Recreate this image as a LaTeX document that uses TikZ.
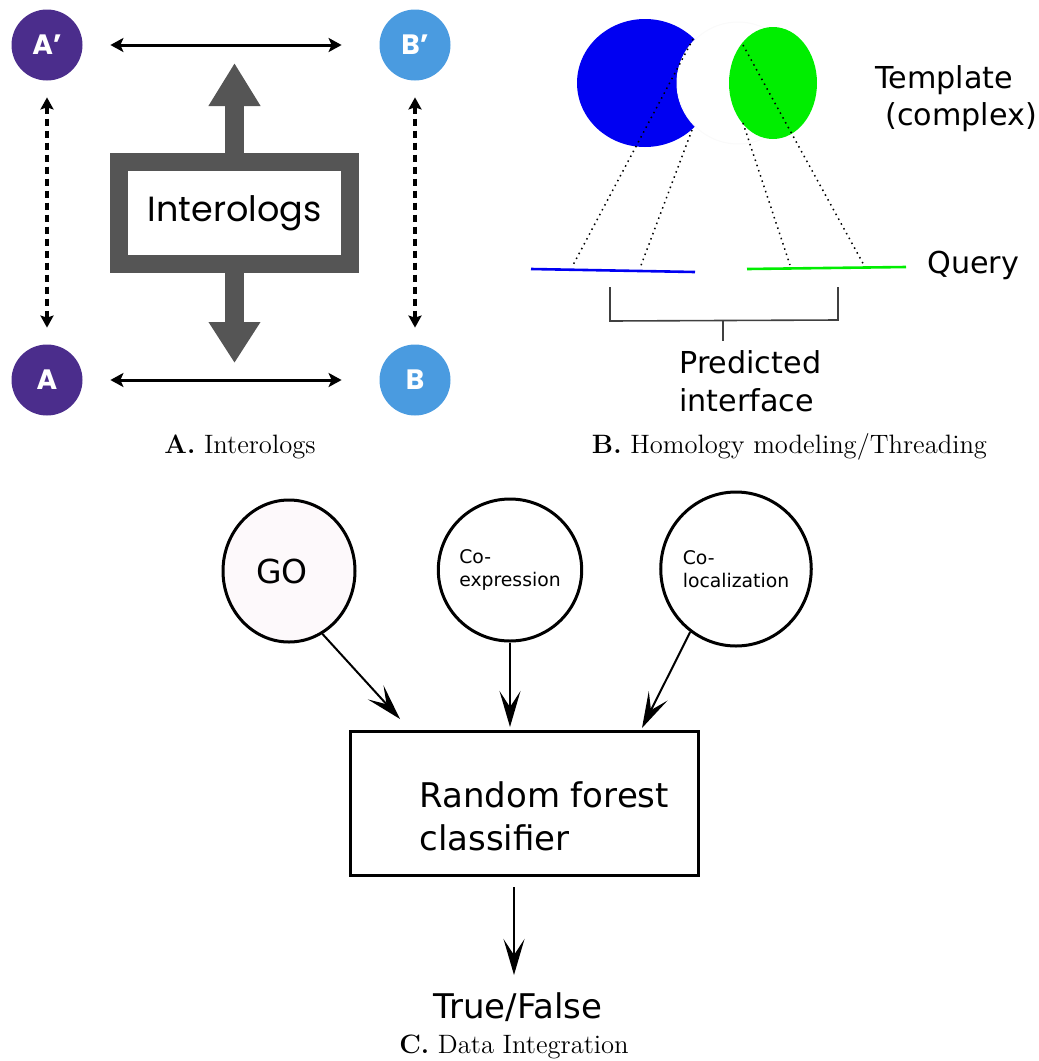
\documentclass[tikz,border=0pt]{standalone}
\usepackage{fontspec}
\newfontfamily\vera{DejaVu Sans}
\newfontfamily\geo{Poppins}
\usetikzlibrary{arrows.meta,shapes.geometric}

\definecolor{idgrey}{HTML}{555555}
\definecolor{orthpurple}{HTML}{4B2D8C}
\definecolor{orthblue}{HTML}{4A9BE0}
\definecolor{tmplblue}{HTML}{0000F2}
\definecolor{tmplgreen}{HTML}{00EE00}
\definecolor{gofill}{HTML}{FDF9FB}
\definecolor{brackgrey}{HTML}{404040}

\tikzset{
  orth/.style={circle, minimum size=35.5pt, inner sep=0pt, text=white,
    font=\geo\bfseries\fontsize{14}{14}\selectfont},
  pairarrow/.style={line width=1.5pt, {Stealth[length=6.5pt,width=7pt,inset=1.5pt]}-{Stealth[length=6.5pt,width=7pt,inset=1.5pt]}},
  homarrow/.style={line width=1.6pt, dash pattern=on 3.5pt off 2.5pt,
    {Stealth[length=6pt,width=6.5pt,inset=1pt]}-{Stealth[length=6pt,width=6.5pt,inset=1pt]}},
  bigarrow/.style={idgrey, line width=9.5pt},
  dots/.style={line width=0.75pt, dash pattern=on 0.75pt off 2pt},
  lbl/.style={anchor=base west, inner sep=0pt, font=\vera\fontsize{15.1}{17}\selectfont},
  caption/.style={anchor=base, inner sep=0pt, font=\fontsize{13.3}{16}\selectfont},
  source/.style={ellipse, draw, line width=1.5pt, inner sep=0pt, align=left,
    font=\vera\fontsize{9.4}{11.5}\selectfont},
  flow/.style={line width=1pt, -{Stealth[length=18pt,width=10.5pt,inset=8pt]}},
}

\begin{document}
\begin{tikzpicture}[x=0.5pt,y=-0.5pt]
\useasboundingbox (0,0) rectangle (1039,1061);

% ---------- A. Interologs ----------
\node[orth, fill=orthpurple] (Ap) at (47,45)  {A’};
\node[orth, fill=orthblue]   (Bp) at (415,45) {B’};
\node[orth, fill=orthpurple] (A)  at (47,380) {A};
\node[orth, fill=orthblue]   (B)  at (415,380) {B};

\draw[pairarrow, shorten <=13.75pt, shorten >=18.75pt] (Ap) -- (Bp);
\draw[pairarrow, shorten <=13.75pt, shorten >=18.75pt] (A) -- (B);
\draw[homarrow, shorten <=8.25pt, shorten >=8.25pt] (Ap) -- (A);
\draw[homarrow, shorten <=8.25pt, shorten >=8.25pt] (Bp) -- (B);

\node[draw=idgrey, line width=9pt, minimum width=115.5pt, minimum height=51pt,
      inner sep=0pt, font=\geo\fontsize{17.5}{20}\selectfont] (inter) at (234.5,213) {Interologs};
\coordinate (upTip) at (234.5,63);
\coordinate (downTip) at (234.5,363);
\draw[bigarrow, -{Triangle[length=21.5pt,width=24.5pt]}] (inter.north) -- (upTip);
\draw[bigarrow, -{Triangle[length=20.5pt,width=24.5pt]}] (inter.south) -- (downTip);

\node[caption] (capA) at (240,453) {\textbf{A.} Interologs};

% ---------- B. Homology modeling / threading ----------
\fill[tmplblue] (645,83) ellipse [x radius=68, y radius=64];
\filldraw[fill=white, draw=black!2, line width=0.5pt] (738,83) circle [radius=61];
\fill[tmplgreen] (773,83) ellipse [x radius=44, y radius=56];

\draw[dots] (693,39) -- (572,267);
\draw[dots] (692,130) -- (640,268);
\draw[dots] (743,45) -- (865,267);
\draw[dots] (743,123) -- (790,265);

\draw[tmplblue, line width=1.3pt] (531,269) -- (695,272);
\draw[tmplgreen, line width=1.3pt] (747,269) -- (906,267);

\draw[brackgrey, line width=0.8pt] (610,287) -- (610,321) -- (838,320) -- (838,287);
\draw[brackgrey, line width=0.8pt] (723,321) -- (723,341);

\node[lbl] (tmpl1) at (875,88)  {Template};
\node[lbl] (tmpl2) at (885,125) {(complex)};
\node[lbl] (query) at (927,273) {Query};
\node[lbl] (pred1) at (679,373) {Predicted};
\node[lbl] (pred2) at (679,411) {interface};

\node[caption] (capB) at (789.5,453) {\textbf{B.} Homology modeling/Threading};

% ---------- C. Data integration ----------
\node[source, fill=gofill, minimum width=66pt, minimum height=71pt,
      font=\vera\fontsize{16.5}{18}\selectfont] (GO) at (289,571) {GO\hspace*{7pt}};
\node[source, fill=white, minimum width=69pt, minimum height=71pt] (coexp) at (510,570) {Co-\\expression};
\node[source, fill=white, minimum width=72pt, minimum height=77pt] (coloc) at (736,569) {Co-\\localization};

\node[draw, line width=1.5pt, minimum width=174pt, minimum height=72pt, inner sep=0pt] (rf) at (524.5,803.5) {};
\node[lbl, font=\vera\fontsize{17}{20}\selectfont] (rf1) at (419,807) {Random forest};
\node[lbl, font=\vera\fontsize{17}{20}\selectfont] (rf2) at (419,850) {classifier};

\coordinate (inGO) at (400,719);
\coordinate (inCE) at (510,727);
\coordinate (inCL) at (642,728);
\draw[flow] (GO.-62) -- (inGO);
\draw[flow] (coexp.south) -- (inCE);
\draw[flow] (coloc.-126) -- (inCL);

\coordinate (outTF) at (514,975);
\draw[flow, shorten <=5pt] (rf.south -| outTF) -- (outTF);
\node[lbl, font=\vera\fontsize{17}{20}\selectfont] (tf) at (433,1018) {True/False};

\node[caption] (capC) at (514,1053) {\textbf{C.} Data Integration};
\end{tikzpicture}
\end{document}
